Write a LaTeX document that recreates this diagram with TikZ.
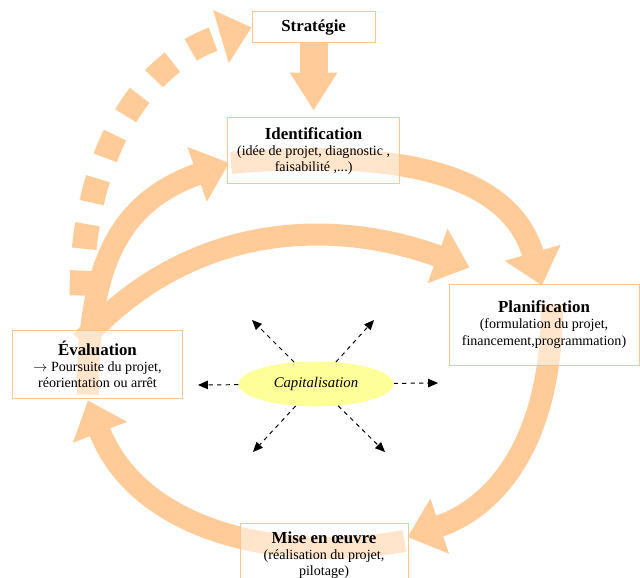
\documentclass[tikz,border=0pt]{standalone}
\usepackage{fontspec}
\setmainfont{Liberation Serif}
\usepackage{tikz}
\usetikzlibrary{arrows.meta,positioning,shapes.geometric,calc,backgrounds}
\definecolor{cycOrange}{HTML}{FFCC99}
\definecolor{cycLine}{HTML}{FFC78F}
\definecolor{cycYellow}{HTML}{FFFF99}
\newcommand{\stagehead}[1]{{\fontsize{12}{14}\selectfont\bfseries #1}}
\tikzset{
  stage/.style={rectangle, draw=cycLine, line width=0.7pt, fill=white, fill opacity=0.5, text opacity=1, align=center, inner sep=2pt, font=\fontsize{10}{11.5}\selectfont},
  capnode/.style={ellipse, fill=cycYellow, minimum width=3.875cm, minimum height=1.125cm, inner sep=0pt, font=\fontsize{10.5}{12}\selectfont\itshape},
  band/.style={draw=cycOrange, line width=0.55cm, -{Triangle[width=1.4cm,length=0.85cm]}},
  dropband/.style={draw=cycOrange, line width=0.7cm, -{Triangle[width=1.125cm,length=0.95cm]}},
  dotband/.style={draw=cycOrange, line width=0.62cm, dash pattern=on 0.62cm off 0.55cm, -{Triangle[width=1.33cm,length=0.8cm]}},
  spoke/.style={-{Triangle[length=7pt,width=6pt]}, dashed, line width=0.7pt, draw=black}
}

\begin{document}
\begin{tikzpicture}
\useasboundingbox (0,0) rectangle (16,14.425);
\node[stage, minimum width=3.075cm, minimum height=0.775cm] (strat) at (7.84,13.74) {\stagehead{Stratégie}};
\node[stage, minimum width=4.3cm, minimum height=1.65cm, below=1.85cm of strat] (ident) {\stagehead{Identification}\\(idée de projet, diagnostic ,\\faisabilité ,...)};
\node[stage, minimum width=4.75cm, minimum height=2.025cm] (plan) at (13.6,6.3125) {\stagehead{Planification}\\(formulation du projet,\\financement,programmation)};
\node[stage, minimum width=4.25cm, minimum height=1.7cm] (eval) at (2.4375,5.325) {\stagehead{Évaluation}\\$\rightarrow$ Poursuite du projet,\\réorientation ou arrêt};
\node[stage, minimum width=4.2cm, minimum height=1.6cm] (mise) at (8.1,0.55) {\stagehead{Mise en œuvre}\\(réalisation du projet,\\pilotage)};
\node[capnode] (cap) at (7.9,4.825) {Capitalisation};

% the cycle, behind the boxes
\begin{scope}[on background layer]
\draw[dotband] ($(eval.north)+(-0.39,0.85)$) .. controls +(0,3.575) and +(-2.7,-0.8) .. (strat.west);
\draw[dropband] (strat.south) -- ([yshift=0.17cm]ident.north);
\draw[band] ($(ident.west)+(0.1,-0.3)$) to[out=5,in=106] ($(plan.north)+(-0.05,-0.05)$);
\draw[band] ($(plan.center)+(0.2,0.5)$) .. controls +(0,-3.41) and +(2.225,0.75) .. ($(mise.east)+(-0.025,0.45)$);
\draw[band] ($(mise.east)+(-0.1,0.35)$) to[out=190,in=-69] ($(eval.south)+(-0.24,-0.05)$);
\draw[band] ($(eval.south)+(-0.24,0.1)$) .. controls +(0,3.2) and +(-2.8,-1) .. ($(ident.west)+(0.05,-0.3)$);
\draw[band] ($(eval.north)+(-0.4,-0.3)$) to[out=48,in=160] ($(plan.north west)+(0.525,0.4)$);
\end{scope}

% capitalisation spokes
\coordinate (nw) at (6.3,6.425);
\coordinate (ne) at (9.35,6.425);
\coordinate (w) at (4.95,4.8);
\coordinate (e) at (10.95,4.85);
\coordinate (sw) at (6.325,3.125);
\coordinate (se) at (9.625,3.125);
\foreach \t in {nw,ne,w,e,sw,se}
  \draw[spoke] (cap) -- (\t);
\end{tikzpicture}
\end{document}
